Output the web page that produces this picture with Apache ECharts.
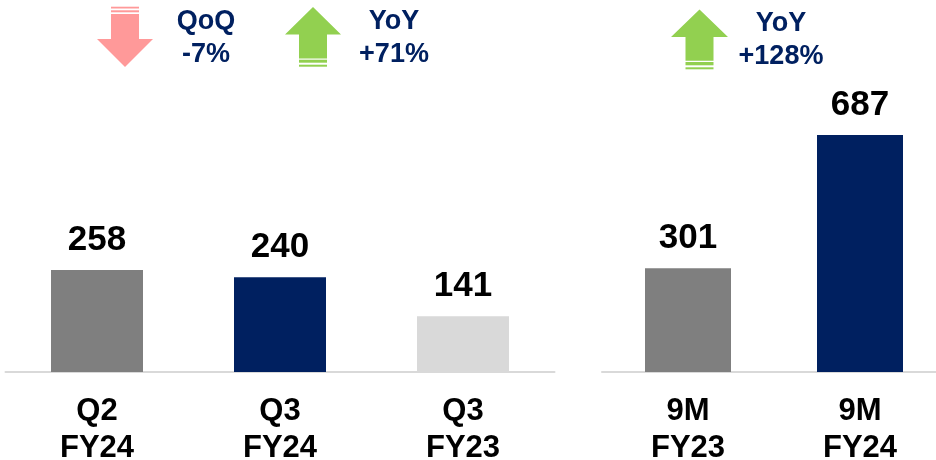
<!DOCTYPE html>
<html>
<head>
<meta charset="utf-8">
<script src="https://cdn.jsdelivr.net/npm/echarts@6/dist/echarts.min.js"></script>
<style>
    html, body { margin: 0; padding: 0; background: #fff; }
    #chart { width: 936px; height: 460px; }
</style>
</head>
<body>
<div id="chart"></div>
<script>
// quarterly panel
const quarterCats = ['Q2\nFY24', 'Q3\nFY24', 'Q3\nFY23'];
const quarterValues = [258, 240, 141];
const quarterColors = ['#7f7f7f', '#002060', '#d9d9d9'];

// nine-month panel
const nineMonthCats = ['9M\nFY23', '9M\nFY24'];
const nineMonthValues = [301, 687];
const nineMonthColors = ['#7f7f7f', '#002060'];

// change callouts
const changeNames = ['QoQ', 'YoY', 'YoY'];
const changeValues = ['-7%', '+71%', '+128%'];

const FONT = '"Liberation Sans", Arial, sans-serif';
const NAVY = '#002060';
const PINK = '#ff9999';
const GREEN = '#92d050';

const chart = echarts.init(document.getElementById('chart'));

function axisX(idx, cats) {
    return {
        type: 'category',
        gridIndex: idx,
        data: cats,
        axisTick: { show: false },
        axisLine: { lineStyle: { color: '#d9d9d9', width: 2 } },
        axisLabel: {
            color: '#000',
            fontFamily: FONT,
            fontWeight: 'bold',
            fontSize: 31,
            lineHeight: 37,
            margin: 21,
            interval: 0
        }
    };
}

function axisY(idx, max) {
    return {
        type: 'value',
        gridIndex: idx,
        min: 0,
        max: max,
        show: false,
        splitLine: { show: false }
    };
}

function barSeries(idx, values, colors, width) {
    return {
        type: 'bar',
        xAxisIndex: idx,
        yAxisIndex: idx,
        barWidth: width,
        data: values.map((v, i) => ({ value: v, itemStyle: { color: colors[i] } })),
        label: {
            show: true,
            position: 'top',
            distance: 12,
            color: '#000',
            fontFamily: FONT,
            fontWeight: 'bold',
            fontSize: 35
        }
    };
}

// arrow decorations
function arrowDown(shaftL, shaftR, top, headY, headL, headR, tipY, stripes, color) {
    const mid = (shaftL + shaftR) / 2;
    const els = [{
        type: 'polygon',
        shape: { points: [[shaftL, top], [shaftR, top], [shaftR, headY], [headR, headY], [mid, tipY], [headL, headY], [shaftL, headY]] },
        style: { fill: color }
    }];
    stripes.forEach(s => els.push({
        type: 'rect', shape: { x: shaftL, y: s[0], width: shaftR - shaftL, height: s[1] }, style: { fill: color }
    }));
    return els;
}

function arrowUp(shaftL, shaftR, bottom, headY, headL, headR, tipY, stripes, color) {
    const mid = (shaftL + shaftR) / 2;
    const els = [{
        type: 'polygon',
        shape: { points: [[mid, tipY], [headR, headY], [shaftR, headY], [shaftR, bottom], [shaftL, bottom], [shaftL, headY], [headL, headY]] },
        style: { fill: color }
    }];
    stripes.forEach(s => els.push({
        type: 'rect', shape: { x: shaftL, y: s[0], width: shaftR - shaftL, height: s[1] }, style: { fill: color }
    }));
    return els;
}

function callout(x, y1, y2, name, value) {
    const st = { fill: NAVY, fontFamily: FONT, fontWeight: 'bold', fontSize: 27, align: 'center', verticalAlign: 'middle' };
    return [
        { type: 'text', x: x, y: y1, style: Object.assign({ text: name }, st) },
        { type: 'text', x: x, y: y2, style: Object.assign({ text: value }, st) }
    ];
}

const graphics = [].concat(
    arrowDown(111, 139, 14, 39, 97, 153, 67, [[6.7, 1.8], [10.3, 2]], PINK),
    arrowUp(299, 327, 58.5, 34.5, 285, 341, 7, [[59.7, 3], [64.7, 2]], GREEN),
    arrowUp(685.5, 713.5, 60.7, 37, 671, 728, 9.5, [[62, 3.3], [67.3, 2]], GREEN),
    callout(206, 22, 55, changeNames[0], changeValues[0]),
    callout(394, 22, 55, changeNames[1], changeValues[1]),
    callout(781, 24, 57, changeNames[2], changeValues[2])
);

chart.setOption({
    animation: false,
    grid: [
        { left: 5.5, width: 549, top: 214, bottom: 88, outerBoundsMode: 'none' },
        { left: 602, right: -10, top: 96, bottom: 88, outerBoundsMode: 'none' }
    ],
    xAxis: [axisX(0, quarterCats), axisX(1, nineMonthCats)],
    yAxis: [axisY(0, 400), axisY(1, 800)],
    series: [
        barSeries(0, quarterValues, quarterColors, 92),
        barSeries(1, nineMonthValues, nineMonthColors, 86)
    ],
    graphic: graphics
});
</script>
</body>
</html>
